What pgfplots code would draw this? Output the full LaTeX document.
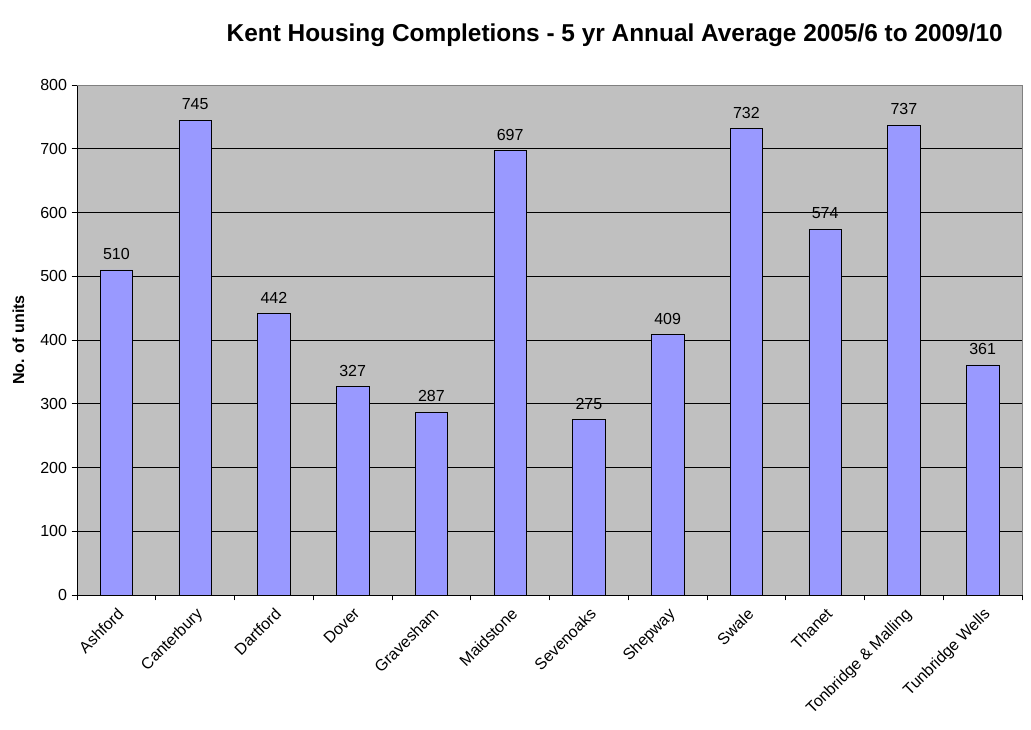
\documentclass[border=0pt]{standalone}
\usepackage{fontspec}
\setmainfont{Liberation Sans}
\usepackage{pgfplots}
\pgfplotsset{compat=1.18}

\definecolor{barblue}{HTML}{9999FF}
\definecolor{plotgray}{HTML}{C0C0C0}
\definecolor{bordergray}{HTML}{808080}

\begin{document}
\begin{tikzpicture}
\begin{axis}[
    scale only axis,
    width=708.75pt, height=382.5pt,
    xmin=-0.5, xmax=11.5,
    ymin=0, ymax=800,
    axis x line=bottom, axis y line=left,
    axis line style={black, thin, -},
    ytick={0,100,...,800},
    xtick={0,...,11},
    xticklabels={Ashford, Canterbury, Dartford, Dover, Gravesham, Maidstone, Sevenoaks, Shepway, Swale, Thanet, Tonbridge \& Malling, Tunbridge Wells},
    minor xtick={-0.5,0.5,...,11.5},
    major x tick style={draw=none},
    tick align=outside,
    tick style={black, thin},
    major tick length=4pt,
    minor tick length=4pt,
    ymajorgrids,
    grid style={black, thin},
    axis background/.style={fill=plotgray, draw=bordergray},
    x tick label style={rotate=45, anchor=north east, font=\fontsize{12}{14}\selectfont},
    y tick label style={font=\fontsize{12}{14}\selectfont},
    /pgf/number format/assume math mode=true,
    ylabel={\bfseries No. of units},
    ylabel style={font=\fontsize{12}{14}\selectfont, at={(axis description cs:0,0.5)}, anchor=center, yshift=44pt},
    title={\bfseries Kent Housing Completions - 5 yr Annual Average 2005/6 to 2009/10},
    title style={font=\fontsize{18.3}{21}\selectfont, at={(0.569,1)}, anchor=south, yshift=19pt},
    nodes near coords,
    nodes near coords style={font=\fontsize{12}{14}\selectfont, black, yshift=4pt},
]
\addplot[ybar, bar width=24.5pt, fill=barblue, draw=black, thin] coordinates {
    (0,510) (1,745) (2,442) (3,327) (4,287) (5,697)
    (6,275) (7,409) (8,732) (9,574) (10,737) (11,361)
};
\draw[bordergray, thin] (rel axis cs:0,1) -- (rel axis cs:1,1) -- (rel axis cs:1,0);
\end{axis}
\pgfresetboundingbox
\path (-57.75pt,-100.5pt) rectangle (715.5pt,446.25pt);
\end{tikzpicture}
\end{document}
